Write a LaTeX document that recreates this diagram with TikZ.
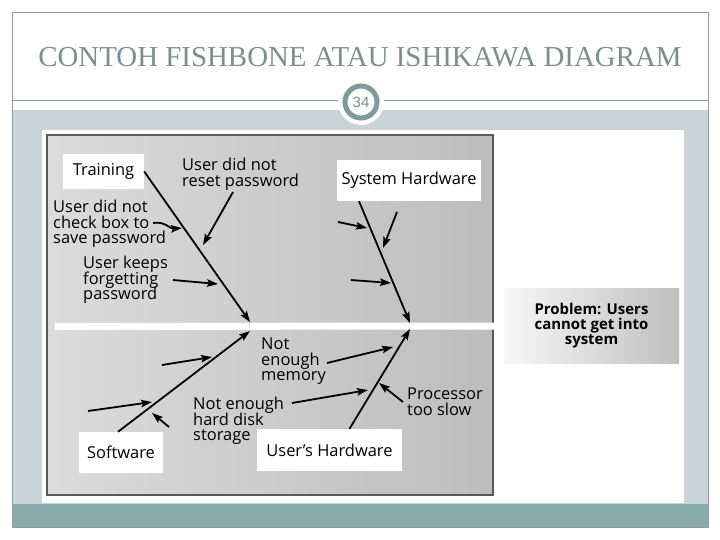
\documentclass[tikz,border=0pt]{standalone}
\usepackage{fontspec}
\setmainfont{Liberation Serif}
\newfontfamily\osans{Open Sans}
\newfontfamily\lsans{Liberation Sans}
\usetikzlibrary{arrows.meta}
\definecolor{titolo}{HTML}{7B8F8F}
\definecolor{fondo}{HTML}{C9D3D8}
\definecolor{banda}{HTML}{8AABAB}
\definecolor{anello}{HTML}{7F9A9A}
\definecolor{bordo}{HTML}{8E9C9C}
\newcommand\righestrette{\lineskiplimit=-20pt\relax}

\begin{document}
\begin{tikzpicture}[x=1bp, y=-1bp,
    box/.style={fill=white, inner sep=0pt, font=\osans\fontsize{16.5}{15}\selectfont},
    lbl/.style={align=left, inner sep=0pt, anchor=north west, font=\osans\fontsize{16.5}{15.5}\selectfont\righestrette},
    freccia/.style={line width=1.8bp, -{Stealth[length=11bp,width=7.5bp,inset=2bp]}}]
    \useasboundingbox (0,0) rectangle (720,540);
    \fill[white] (0,0) rectangle (720,540);
    \fill[fondo] (12,110) rectangle (708,504);
    \fill[banda] (12,504) rectangle (708,527);
    \draw[bordo, line width=0.8bp] (12,12) rectangle (708,527);
    \draw[bordo, line width=0.8bp] (12,100) -- (708,100);
    \node[font=\fontsize{29}{30}\selectfont, text=titolo] (title) at (360,57.5) {CONTOH FISHBONE ATAU ISHIKAWA DIAGRAM};
    \fill[white] (361,102) circle (23);
    \draw[anello, line width=5bp] (361,102) circle (16);
    \node[font=\lsans\fontsize{15}{15}\selectfont, text=titolo] (page) at (361,102) {34};
    % pannello dell'immagine
    \fill[white] (42,130) rectangle (684,503);
    \shade[left color=black!14, right color=black!26] (47,135) rectangle (493,495);
    \draw[black!65, line width=1.2bp] (47,135) rectangle (493,495);
    \node[inner sep=0pt, minimum width=175bp, minimum height=74bp, left color=black!3, right color=black!25,
        align=center, font=\osans\bfseries\fontsize{15}{15}\selectfont] (problem) at (591.5,326) {Problem: Users\\cannot get into\\system};
    \coordinate (coda) at (55,326.5);
    \draw[white, line width=7bp] (coda) -- (problem.west); % spina
    % cause
    \node[box, minimum width=81bp, minimum height=35bp] (training) at (103.5,171.5) {Training};
    \node[box, minimum width=144bp, minimum height=41bp] (syshw) at (409,180.5) {System Hardware};
    \node[box, minimum width=84bp, minimum height=41bp] (software) at (121,452.5) {Software};
    \node[box, minimum width=145bp, minimum height=42bp] (usershw) at (329.5,450) {User’s Hardware};
    \coordinate (tT) at (250,322);
    \coordinate (tS) at (410,323);
    \coordinate (tW) at (250,331);
    \coordinate (tU) at (410,329);
    \draw[freccia] (training.east) -- (tT);
    \draw[freccia] ([xshift=-50bp]syshw.south) -- (tS);
    \draw[freccia] ([xshift=-3bp]software.north) -- (tW);
    \draw[freccia] ([xshift=20bp]usershw.north) -- (tU);
    % sottocause
    \node[lbl] (resetpw) at (182,158) {User did not\\reset password};
    \node[lbl] (checkbox) at (53,200) {User did not\\check box to\\save password};
    \node[lbl] (forget) at (83,256) {User keeps\\forgetting\\password};
    \node[lbl] (memory) at (261,338) {Not\\enough\\memory};
    \node[lbl] (disk) at (193,397) {Not enough\\hard disk\\storage};
    \node[lbl] (slow) at (407,388) {Processor\\too slow};
    \coordinate (r1) at (203,245);
    \coordinate (r2) at (182,228);
    \coordinate (r3) at (218,284);
    \coordinate (r4) at (393,347);
    \coordinate (r5) at (368,390);
    \coordinate (r6) at (379,383);
    \draw[freccia] ([shift={(51,34)}]resetpw.north west) -- (r1);
    \draw[freccia] ([shift={(100,23)}]checkbox.north west) .. controls (165,221) and (170,229) .. (r2);
    \draw[freccia] ([shift={(90,24)}]forget.north west) -- (r3);
    \draw[freccia] ([shift={(66,25)}]memory.north west) -- (r4);
    \draw[freccia] ([shift={(99,6)}]disk.north west) -- (r5);
    \draw[freccia] ([shift={(-4,14)}]slow.north west) -- (r6);
    % frecce senza etichetta
    \coordinate (p1) at (338,222); \coordinate (q1) at (367,228);
    \coordinate (p2) at (397,212); \coordinate (q2) at (383,248);
    \coordinate (p3) at (351,280); \coordinate (q3) at (391,283);
    \coordinate (p4) at (162,365); \coordinate (q4) at (212,357);
    \coordinate (p5) at (88,411);  \coordinate (q5) at (152,402);
    \coordinate (p6) at (169,427); \coordinate (q6) at (152,413);
    \foreach \i in {1,...,6}
        \draw[freccia] (p\i) -- (q\i);
\end{tikzpicture}
\end{document}
